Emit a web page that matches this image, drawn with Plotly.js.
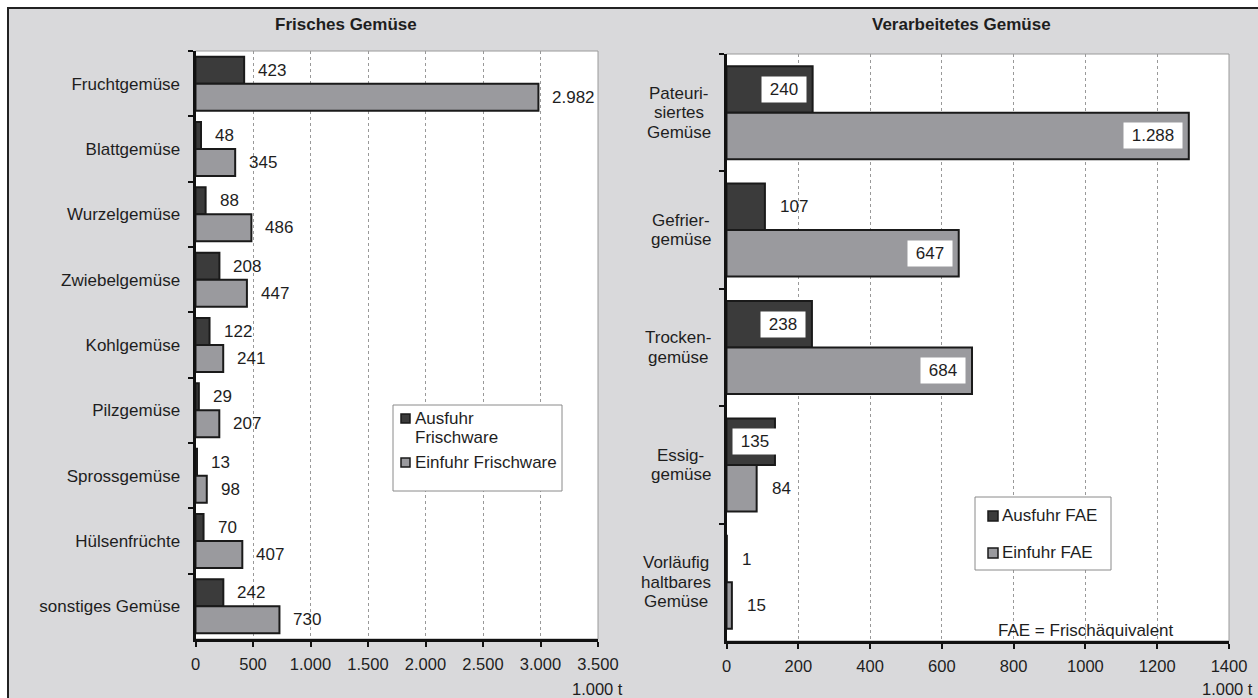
<!DOCTYPE html>
<html><head><meta charset="utf-8">
<script src="https://cdn.plot.ly/plotly-3.0.1.min.js"></script>
<style>
html,body{margin:0;padding:0;background:#fff;width:1258px;height:698px;overflow:hidden;}
#frame{position:absolute;left:7px;top:7px;width:1249px;height:689px;border-top:2px solid #222;border-left:2px solid #222;background:#d9d9db;}
#chart{width:1249px;height:689px;}
</style></head><body><div id="frame"><div id="chart"></div></div>
<script>
// ---- data ----
const catFresh = ['Fruchtgemüse','Blattgemüse','Wurzelgemüse','Zwiebelgemüse','Kohlgemüse','Pilzgemüse','Sprossgemüse','Hülsenfrüchte','sonstiges Gemüse'];
const ausfuhrFrisch = [423,48,88,208,122,29,13,70,242];
const einfuhrFrisch = [2982,345,486,447,241,207,98,407,730];
const catProc = ['Pateuri-<br>siertes<br>Gemüse','Gefrier-<br>gemüse','Trocken-<br>gemüse','Essig-<br>gemüse','Vorläufig<br>haltbares<br>Gemüse'];
const ausfuhrFAE = [240,107,238,135,1];
const einfuhrFAE = [1288,647,684,84,15];
const nameAusFrisch = 'Ausfuhr<br>Frischware';
const nameEinFrisch = 'Einfuhr Frischware';
const nameAusFAE = 'Ausfuhr FAE';
const nameEinFAE = 'Einfuhr FAE';
const titleLeft = 'Frisches Gemüse';
const titleRight = 'Verarbeitetes Gemüse';
const unitLabel = '1.000 t';
const noteFAE = 'FAE = Frischäquivalent';

// ---- layout helpers ----
const FX = 9, FY = 9, W = 1249, H = 689;
const px = x => (x - FX) / W;
const py = y => 1 - (y - FY) / H;
const FONT = 'Liberation Sans, Arial, sans-serif';
const TXT = '#1e1e1e';
const fmt = v => v.toString().replace(/\B(?=(\d{3})+(?!\d))/g, '.');
const cAus = '#3b3b3b', cEin = '#9a9a9e', cEdge = '#1a1a1a';
const wL = 0.413, wR = 0.396;
const R0 = 726.5, R1 = 1229, RMAX = 1400;

const ctx = document.createElement('canvas').getContext('2d');
ctx.font = '17px "Liberation Sans"';
const tw = s => ctx.measureText(s).width;

const traces = [
  {type:'bar', orientation:'h', name:nameAusFrisch, x:ausfuhrFrisch, y:catFresh, xaxis:'x', yaxis:'y', width:wL, offset:-wL,
   marker:{color:cAus, line:{color:cEdge, width:2}}, hoverinfo:'skip', showlegend:false},
  {type:'bar', orientation:'h', name:nameEinFrisch, x:einfuhrFrisch, y:catFresh, xaxis:'x', yaxis:'y', width:wL, offset:0,
   marker:{color:cEin, line:{color:cEdge, width:2}}, hoverinfo:'skip', showlegend:false},
  {type:'bar', orientation:'h', name:nameAusFAE, x:ausfuhrFAE, y:catProc, xaxis:'x2', yaxis:'y2', width:wR, offset:-wR,
   marker:{color:cAus, line:{color:cEdge, width:2}}, hoverinfo:'skip', showlegend:false},
  {type:'bar', orientation:'h', name:nameEinFAE, x:einfuhrFAE, y:catProc, xaxis:'x2', yaxis:'y2', width:wR, offset:0,
   marker:{color:cEin, line:{color:cEdge, width:2}}, hoverinfo:'skip', showlegend:false}
];

const ann = [];
const shapes = [];
const f17 = {family:FONT, size:17, color:TXT};

// titles
ann.push({xref:'paper', yref:'paper', x:px(346), y:py(24), xanchor:'center', yanchor:'middle', showarrow:false,
  text:'<b>'+titleLeft+'</b>', font:{family:FONT, size:17, color:TXT}});
ann.push({xref:'paper', yref:'paper', x:px(961), y:py(24), xanchor:'center', yanchor:'middle', showarrow:false,
  text:'<b>'+titleRight+'</b>', font:{family:FONT, size:17, color:TXT}});
// units
ann.push({xref:'paper', yref:'paper', x:px(625), y:py(689), xanchor:'right', yanchor:'middle', showarrow:false, text:unitLabel, font:{family:FONT,size:16.5,color:TXT}});
ann.push({xref:'paper', yref:'paper', x:px(1255), y:py(689), xanchor:'right', yanchor:'middle', showarrow:false, text:unitLabel, font:{family:FONT,size:16.5,color:TXT}});
// note
ann.push({xref:'paper', yref:'paper', x:px(996), y:py(630), xanchor:'left', yanchor:'middle', showarrow:false, text:noteFAE, font:f17});

// left data labels
ausfuhrFrisch.forEach((v,i)=>ann.push({xref:'x', yref:'y', x:v, y:i - wL/2, xanchor:'left', yanchor:'middle', xshift:12, showarrow:false, text:fmt(v), font:f17}));
einfuhrFrisch.forEach((v,i)=>ann.push({xref:'x', yref:'y', x:v, y:i + wL/2, xanchor:'left', yanchor:'middle', xshift:12, showarrow:false, text:fmt(v), font:f17}));

// right data labels: boxed inside when the bar is long enough
function rightLabel(v, yy){
  if (v >= 120) {
    const txt = '\u00a0'+fmt(v)+'\u00a0';
    const boxW = tw(txt) + 6;
    const barEnd = R0 + v * (R1 - R0) / RMAX;
    const right = Math.max(barEnd - 6, R0 + 8 + boxW);
    ann.push({xref:'x2', yref:'y2', x:v, y:yy, xanchor:'right', yanchor:'middle', xshift:right - barEnd, showarrow:false,
      text:txt, font:f17, bgcolor:'#ffffff', borderpad:3});
  } else {
    ann.push({xref:'x2', yref:'y2', x:v, y:yy, xanchor:'left', yanchor:'middle', xshift:13, showarrow:false, text:fmt(v), font:f17});
  }
}
ausfuhrFAE.forEach((v,i)=>rightLabel(v, i - wR/2));
einfuhrFAE.forEach((v,i)=>rightLabel(v, i + wR/2));

// right category labels (centered multi-line blocks, right edge near axis)
catProc.forEach((c,i)=>{
  const lines = c.split('<br>');
  const widest = Math.max(...lines.map(tw));
  const cx = 711 - widest/2;
  lines.forEach((ln,j)=>{
    ann.push({xref:'paper', yref:'y2', x:px(cx), y:i, xanchor:'center', yanchor:'middle', yshift:-(j-(lines.length-1)/2)*19.5,
      showarrow:false, text:ln, font:f17});
  });
});

// plot area borders
shapes.push({type:'rect', xref:'x domain', yref:'y domain', x0:0, x1:1, y0:0, y1:1, line:{color:'#9a9a9a', width:1}, layer:'below'});
shapes.push({type:'rect', xref:'x2 domain', yref:'y2 domain', x0:0, x1:1, y0:0, y1:1, line:{color:'#9a9a9a', width:1}, layer:'below'});

// legend 1 (manual)
shapes.push({type:'rect', xref:'paper', yref:'paper', x0:px(393), x1:px(562), y0:py(491), y1:py(405), fillcolor:'#fff', line:{color:'#8a8a8a', width:1}, layer:'above'});
shapes.push({type:'rect', xref:'paper', yref:'paper', x0:px(401), x1:px(410), y0:py(423), y1:py(414), fillcolor:cAus, line:{color:cEdge, width:1.5}, layer:'above'});
shapes.push({type:'rect', xref:'paper', yref:'paper', x0:px(401), x1:px(410), y0:py(467), y1:py(458), fillcolor:cEin, line:{color:cEdge, width:1.5}, layer:'above'});
nameAusFrisch.split('<br>').forEach((ln,j)=>ann.push({xref:'paper', yref:'paper', x:px(413), y:py(418.5 + j*18.5), xanchor:'left', yanchor:'middle', showarrow:false, text:ln, font:f17}));
ann.push({xref:'paper', yref:'paper', x:px(413), y:py(462), xanchor:'left', yanchor:'middle', showarrow:false, text:nameEinFrisch, font:f17});

// legend 2 (manual)
shapes.push({type:'rect', xref:'paper', yref:'paper', x0:px(975), x1:px(1111), y0:py(570), y1:py(497), fillcolor:'#fff', line:{color:'#8a8a8a', width:1}, layer:'above'});
shapes.push({type:'rect', xref:'paper', yref:'paper', x0:px(988), x1:px(998), y0:py(521), y1:py(511), fillcolor:cAus, line:{color:cEdge, width:1.5}, layer:'above'});
shapes.push({type:'rect', xref:'paper', yref:'paper', x0:px(988), x1:px(998), y0:py(558), y1:py(548), fillcolor:cEin, line:{color:cEdge, width:1.5}, layer:'above'});
ann.push({xref:'paper', yref:'paper', x:px(1000), y:py(515.5), xanchor:'left', yanchor:'middle', showarrow:false, text:nameAusFAE, font:f17});
ann.push({xref:'paper', yref:'paper', x:px(1000), y:py(552.5), xanchor:'left', yanchor:'middle', showarrow:false, text:nameEinFAE, font:f17});

const xCommon = {showline:true, linecolor:'#111', linewidth:3, ticks:'outside', ticklen:5, tickwidth:2, tickcolor:'#111',
  showgrid:true, gridcolor:'#999', griddash:'dot', gridwidth:1, zeroline:false, fixedrange:true,
  tickfont:{family:FONT, size:16.5, color:TXT}, ticklabelstandoff:3};
const yCommon = {type:'category', showline:true, linecolor:'#111', linewidth:3, ticks:'outside', tickson:'boundaries', ticklen:5, tickwidth:2, tickcolor:'#111',
  showgrid:false, zeroline:false, fixedrange:true, tickfont:{family:FONT, size:17, color:TXT}};

const layout = {
  width:W, height:H, margin:{l:0, r:0, t:0, b:0},
  paper_bgcolor:'#d9d9db', plot_bgcolor:'#ffffff',
  separators:',.', barmode:'overlay', showlegend:false,
  font:{family:FONT, size:17, color:TXT},
  xaxis:Object.assign({}, xCommon, {domain:[px(195.5), px(598)], anchor:'y', range:[0,3500], tick0:0, dtick:500, separatethousands:true}),
  yaxis:Object.assign({}, yCommon, {domain:[py(639), py(51)], anchor:'x', range:[catFresh.length-0.5, -0.5], ticklabelstandoff:9}),
  xaxis2:Object.assign({}, xCommon, {domain:[px(R0), px(R1)], anchor:'y2', range:[0,RMAX], tick0:0, dtick:200}),
  yaxis2:Object.assign({}, yCommon, {domain:[py(641), py(54)], anchor:'x2', range:[catProc.length-0.5, -0.5], showticklabels:false}),
  annotations:ann, shapes:shapes
};
Plotly.newPlot('chart', traces, layout, {displayModeBar:false, staticPlot:true});
</script></body></html>
